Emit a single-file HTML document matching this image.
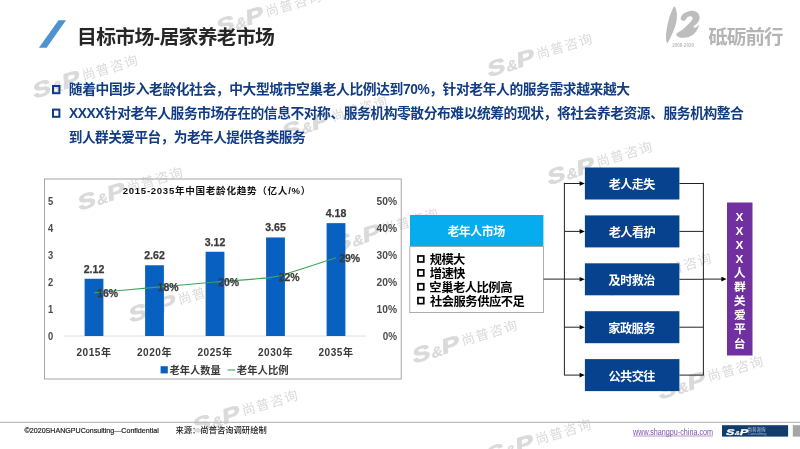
<!DOCTYPE html>
<html lang="zh-CN"><head><meta charset="utf-8"><title>目标市场-居家养老市场</title>
<style>
html,body{margin:0;padding:0;background:#fff}
body{width:800px;height:449px;overflow:hidden;position:relative;font-family:"Liberation Sans","Noto Sans CJK SC",sans-serif}
svg{position:absolute;left:0;top:0;overflow:hidden;will-change:transform}
.l{position:absolute;line-height:1;white-space:nowrap;transform-origin:0 0;will-change:transform}
.t{position:absolute;line-height:1;white-space:nowrap;color:transparent;font-weight:bold}
</style></head><body>
<svg width="800" height="449" viewBox="0 0 800 449">
<defs><g id="sp" font-family="Liberation Sans" font-weight="bold" fill="currentColor" stroke="currentColor" stroke-width="0.7" stroke-linejoin="round"><text transform="translate(1.800 1.300) skewX(-14) scale(1.3 1)" font-size="21">S</text><text transform="translate(21.300 1.500) skewX(-14) scale(1.1 1)" font-size="14.500" stroke-width="0.3">&amp;</text><text transform="translate(32.300 1) skewX(-14) scale(1.3 1)" font-size="21">P</text></g><g id="wm" fill="#dadada" color="#dadada"><use href="#sp"/><text x="54.88" y="-1.96" font-family="'Liberation Sans','Noto Sans CJK SC',sans-serif" font-size="13.4" fill="#dadada" textLength="57.35">尚普咨询</text></g></defs><g><clipPath id="cf"><rect x="0" y="0" width="205" height="449"/></clipPath><use href="#wm" transform="translate(215 34) rotate(-16.5)"/><use href="#wm" transform="translate(31.5 98) rotate(-16.5)"/><use href="#wm" transform="translate(486 76.5) rotate(-16.5)"/><use href="#wm" transform="translate(546 184.5) rotate(-16.5)"/><use href="#wm" transform="translate(76.5 210) rotate(-16.5)"/><g clip-path="url(#cf)"><use href="#wm" transform="translate(127.5 322) rotate(-16.5)"/></g><use href="#wm" transform="translate(332 251.5) rotate(-16.5)"/><use href="#wm" transform="translate(411 363) rotate(-16.5)"/><use href="#wm" transform="translate(657 399) rotate(-16.5)"/><use href="#wm" transform="translate(191.5 433) rotate(-16.5)"/><use href="#wm" transform="translate(485 462) rotate(-16.5)"/><use href="#wm" transform="translate(605 296) rotate(-16.5)"/><use href="#wm" transform="translate(281 139) rotate(-16.5)"/></g>
<polygon points="58.5,20.2 66,20.2 46.6,47.7 38.9,47.7" fill="#4e92d0"/><g fill="#bdbdbd"><path d="M674.5 6.5C675.3 6.7 676.4 10 676.7 12.2C677.1 14.5 676.9 17.4 676.6 20C676.3 22.6 675.6 25.2 674.7 27.8C673.8 30.4 672.6 33.1 671.4 35.6C670.1 38.2 668.2 42.9 667.3 43.2C666.5 43.5 666.1 39.9 666 37.3C665.9 34.7 666.4 30.9 666.9 27.8C667.4 24.8 668.1 21.8 668.9 18.9C669.7 16.1 670.9 13 671.8 10.9C672.7 8.8 673.7 6.2 674.5 6.5z"/><path d="M680.6 18.9C680.5 17.7 681.9 14.9 683.6 13.6C685.3 12.2 688.3 11.1 690.6 10.9C692.9 10.7 695.8 11.4 697.3 12.6C698.8 13.7 699.6 16.1 699.6 17.8C699.7 19.5 698.7 21.3 697.6 22.8C696.6 24.3 693.7 26 693.4 26.7C693.1 27.5 694.9 27.7 695.9 27.4C696.8 27.1 699 24.4 699 25.2C699 25.9 697.5 29.8 695.9 31.7C694.2 33.7 691.9 35.8 689.2 36.7C686.5 37.7 681.7 37.9 679.6 37.4C677.5 37 675.9 35.2 676.4 34C676.8 32.7 680.3 31.5 682.3 29.8C684.3 28.2 686.7 25.7 688.4 23.9C690.1 22.2 692 20.4 692.5 19.2C693 17.9 692.2 16.9 691.4 16.5C690.6 16.1 689 16.2 687.8 16.9C686.7 17.6 685.5 20.4 684.3 20.7C683.1 21 680.7 20.1 680.6 18.9z"/></g><rect x="53" y="86" width="6.4" height="7.2" fill="none" stroke="#113c84" stroke-width="2"/><rect x="53" y="109.6" width="6.4" height="7.2" fill="none" stroke="#113c84" stroke-width="2"/><rect x="44.5" y="179" width="356.75" height="200" fill="none" stroke="#a6a6a6" stroke-width="1"/><path d="M64 336H366" stroke="#dcdcdc" stroke-width="0.9" fill="none"/><rect x="84.6" y="278.76" width="18.8" height="57.24" fill="#0860c1"/><rect x="145.1" y="265.26" width="18.8" height="70.74" fill="#0860c1"/><rect x="205.6" y="251.76" width="18.8" height="84.24" fill="#0860c1"/><rect x="266.1" y="237.45" width="18.8" height="98.55" fill="#0860c1"/><rect x="326.6" y="223.14" width="18.8" height="112.86" fill="#0860c1"/><rect x="160.6" y="366.2" width="7.2" height="7.2" fill="#0860c1"/><path d="M227.6 370H235.2" stroke="#3da35d" stroke-width="1.1"/><rect x="410" y="215" width="133.4" height="31.5" fill="#06acee"/><rect x="409.8" y="246.6" width="133.8" height="66" fill="#fff" stroke="#9a9a9a" stroke-width="0.8"/><rect x="417.95" y="255.95" width="5.8" height="6" fill="none" stroke="#000" stroke-width="1.7"/><rect x="417.95" y="269.85" width="5.8" height="6" fill="none" stroke="#000" stroke-width="1.7"/><rect x="417.95" y="283.75" width="5.8" height="6" fill="none" stroke="#000" stroke-width="1.7"/><rect x="417.95" y="297.65" width="5.8" height="6" fill="none" stroke="#000" stroke-width="1.7"/><rect x="584.9" y="167.5" width="94.5" height="32" fill="#07428f"/><path d="M564.4 183.5 H581" stroke="#222" stroke-width="1" fill="none"/><path d="M584.8 183.5 l-5.2-2.3v4.6z" fill="#000"/><path d="M679.4 183.5 H703.4" stroke="#222" stroke-width="1" fill="none"/><rect x="584.9" y="215.4" width="94.5" height="32" fill="#07428f"/><path d="M564.4 231.4 H581" stroke="#222" stroke-width="1" fill="none"/><path d="M584.8 231.4 l-5.2-2.3v4.6z" fill="#000"/><path d="M679.4 231.4 H703.4" stroke="#222" stroke-width="1" fill="none"/><rect x="584.9" y="263.3" width="94.5" height="32" fill="#07428f"/><path d="M584.8 279.3 l-5.2-2.3v4.6z" fill="#000"/><path d="M679.4 279.3 H703.4" stroke="#222" stroke-width="1" fill="none"/><rect x="584.9" y="311.2" width="94.5" height="32" fill="#07428f"/><path d="M564.4 327.2 H581" stroke="#222" stroke-width="1" fill="none"/><path d="M584.8 327.2 l-5.2-2.3v4.6z" fill="#000"/><path d="M679.4 327.2 H703.4" stroke="#222" stroke-width="1" fill="none"/><rect x="584.9" y="359.1" width="94.5" height="32" fill="#07428f"/><path d="M564.4 375.1 H581" stroke="#222" stroke-width="1" fill="none"/><path d="M584.8 375.1 l-5.2-2.3v4.6z" fill="#000"/><path d="M679.4 375.1 H703.4" stroke="#222" stroke-width="1" fill="none"/><path d="M564.4 182.8V375.400M703.4 182.8V375.400" stroke="#222" stroke-width="1" fill="none"/><path d="M543.6 279.1H581M703.4 279.1H723" stroke="#222" stroke-width="1" fill="none"/><path d="M726.6 279.1l-5.2-2.300v4.600z" fill="#000"/><rect x="727" y="202.500" width="25.5" height="153" fill="#7030a0"/><path d="M0 422.300H800" stroke="#bdbdbd" stroke-width="1.2"/><rect x="722" y="425.2" width="66.1" height="11.4" fill="#133c6c"/><rect x="792.8" y="425.2" width="7.2" height="11.4" fill="#a6a6a6"/>
<g font-family="'Liberation Sans','Noto Sans CJK SC',sans-serif" font-weight="bold">
<text x="77.01" y="44.2" font-size="19.82" fill="#262626" textLength="197.9">目标市场-居家养老市场</text>
<text x="708.29" y="43.67" font-size="19.45" fill="#b4b4b4" textLength="75.1">砥砺前行</text>
<text x="68.85" y="94.47" font-size="13.76" fill="#113c84" textLength="561.2">随着中国步入老龄化社会，中大型城市空巢老人比例达到70%，针对老年人的服务需求越来越大</text>
<text x="69.06" y="117.97" font-size="13.76" fill="#113c84" textLength="674.8">XXXX针对老年人服务市场存在的信息不对称、服务机构零散分布难以统筹的现状，将社会养老资源、服务机构整合</text>
<text x="68.81" y="141.76" font-size="13.63" fill="#113c84" textLength="236.8">到人群关爱平台，为老年人提供各类服务</text>
<text x="122.76" y="193.6" font-size="9.59" fill="#111" textLength="187.6">2015-2035年中国老龄化趋势（亿人/%）</text>
<text x="76.51" y="356.05" font-size="10.07" fill="#3a3a3a" textLength="34.45">2015年</text>
<text x="137.01" y="356.05" font-size="10.07" fill="#3a3a3a" textLength="34.45">2020年</text>
<text x="197.51" y="356.05" font-size="10.07" fill="#3a3a3a" textLength="34.45">2025年</text>
<text x="258.01" y="356.05" font-size="10.07" fill="#3a3a3a" textLength="34.45">2030年</text>
<text x="318.51" y="356.05" font-size="10.07" fill="#3a3a3a" textLength="34.45">2035年</text>
<text x="169.42" y="373.5" font-size="10.26" fill="#3a3a3a" textLength="51.3">老年人数量</text>
<text x="236.81" y="373.56" font-size="10.37" fill="#3a3a3a" textLength="51.85">老年人比例</text>
<text x="447.38" y="236.41" font-size="11.96" fill="#fff" textLength="57.7">老年人市场</text>
<text x="429.79" y="264.27" font-size="12.3" fill="#000" textLength="35.6">规模大</text>
<text x="429.76" y="278.16" font-size="12.3" fill="#000" textLength="35.6">增速快</text>
<text x="429.34" y="292.13" font-size="12.3" fill="#000" textLength="83.1">空巢老人比例高</text>
<text x="429.92" y="305.99" font-size="12.3" fill="#000" textLength="94.96">社会服务供应不足</text>
<text x="608.68" y="188.78" font-size="12.05" fill="#fff" textLength="46.5">老人走失</text>
<text x="608.68" y="236.72" font-size="12.2" fill="#fff" textLength="47.1">老人看护</text>
<text x="608.6" y="284.61" font-size="12.13" fill="#fff" textLength="46.8">及时救治</text>
<text x="608.35" y="332.57" font-size="12.17" fill="#fff" textLength="47">家政服务</text>
<text x="608.44" y="380.5" font-size="12.17" fill="#fff" textLength="47">公共交往</text>
<text x="735.54" y="220.67" font-size="11.8" fill="#fff">X</text>
<text x="735.54" y="234.75" font-size="11.8" fill="#fff">X</text>
<text x="735.54" y="248.83" font-size="11.8" fill="#fff">X</text>
<text x="735.54" y="262.91" font-size="11.8" fill="#fff">X</text>
<text x="733.86" y="277.1" font-size="11.8" fill="#fff">人</text>
<text x="733.95" y="291.19" font-size="11.8" fill="#fff">群</text>
<text x="733.85" y="305.26" font-size="11.8" fill="#fff">关</text>
<text x="734.06" y="319.3" font-size="11.8" fill="#fff">爱</text>
<text x="733.88" y="333.06" font-size="11.8" fill="#fff">平</text>
<text x="733.73" y="347.6" font-size="11.8" fill="#fff">台</text>
</g>
<path d="M94 292.8C100.05 292.26 142.4 288.48 154.5 287.4C166.6 286.32 202.9 283.08 215 282C227.1 280.92 263.4 279.03 275.5 276.6C287.6 274.17 329.95 259.59 336 257.7" fill="none" stroke="#3da35d" stroke-width="1.1"/>
<text x="175.46" y="433.35" font-family="'Liberation Sans','Noto Sans CJK SC',sans-serif" font-size="8.3" font-weight="500" fill="#1a1a1a" textLength="91.3">来源：尚普咨询调研绘制</text>
<path d="M633 436H713" stroke="#7c52ae" stroke-width="0.6"/><use href="#sp" color="#fff" transform="translate(724.600 434.200) scale(0.455 0.4)"/>
<text x="747.38" y="431.02" font-family="'Liberation Sans','Noto Sans CJK SC',sans-serif" font-size="4.54" font-weight="500" fill="#a9b9d0" textLength="18.16">尚普咨询</text>
<g font-family="Liberation Sans,sans-serif"><text x="672.2" y="46.8" font-size="4.8" fill="#bcbcbc" font-weight="bold" textLength="21.81" lengthAdjust="spacingAndGlyphs">2008-2020</text>
<text x="48" y="340.2" font-size="10.8" fill="#4a4a4a" font-weight="bold" textLength="5.21" lengthAdjust="spacingAndGlyphs">0</text>
<text x="382.7" y="340.2" font-size="10.8" fill="#4a4a4a" font-weight="bold" textLength="14.3" lengthAdjust="spacingAndGlyphs">0%</text>
<text x="48" y="313.2" font-size="10.8" fill="#4a4a4a" font-weight="bold" textLength="5.21" lengthAdjust="spacingAndGlyphs">1</text>
<text x="376.5" y="313.2" font-size="10.8" fill="#4a4a4a" font-weight="bold" textLength="20.52" lengthAdjust="spacingAndGlyphs">10%</text>
<text x="48" y="286.2" font-size="10.8" fill="#4a4a4a" font-weight="bold" textLength="5.21" lengthAdjust="spacingAndGlyphs">2</text>
<text x="376.5" y="286.2" font-size="10.8" fill="#4a4a4a" font-weight="bold" textLength="20.52" lengthAdjust="spacingAndGlyphs">20%</text>
<text x="48" y="259.2" font-size="10.8" fill="#4a4a4a" font-weight="bold" textLength="5.21" lengthAdjust="spacingAndGlyphs">3</text>
<text x="376.5" y="259.2" font-size="10.8" fill="#4a4a4a" font-weight="bold" textLength="20.52" lengthAdjust="spacingAndGlyphs">30%</text>
<text x="48" y="232.2" font-size="10.8" fill="#4a4a4a" font-weight="bold" textLength="5.21" lengthAdjust="spacingAndGlyphs">4</text>
<text x="376.5" y="232.2" font-size="10.8" fill="#4a4a4a" font-weight="bold" textLength="20.52" lengthAdjust="spacingAndGlyphs">40%</text>
<text x="48" y="205.2" font-size="10.8" fill="#4a4a4a" font-weight="bold" textLength="5.21" lengthAdjust="spacingAndGlyphs">5</text>
<text x="376.5" y="205.2" font-size="10.8" fill="#4a4a4a" font-weight="bold" textLength="20.52" lengthAdjust="spacingAndGlyphs">50%</text>
<text x="83.7" y="272.76" font-size="10.9" fill="#3a3a3a" font-weight="bold" stroke="#3a3a3a" stroke-width="0.25" textLength="20.61" lengthAdjust="spacingAndGlyphs">2.12</text>
<text x="144.2" y="259.26" font-size="10.9" fill="#3a3a3a" font-weight="bold" stroke="#3a3a3a" stroke-width="0.25" textLength="20.61" lengthAdjust="spacingAndGlyphs">2.62</text>
<text x="204.7" y="245.76" font-size="10.9" fill="#3a3a3a" font-weight="bold" stroke="#3a3a3a" stroke-width="0.25" textLength="20.61" lengthAdjust="spacingAndGlyphs">3.12</text>
<text x="265.2" y="231.45" font-size="10.9" fill="#3a3a3a" font-weight="bold" stroke="#3a3a3a" stroke-width="0.25" textLength="20.61" lengthAdjust="spacingAndGlyphs">3.65</text>
<text x="325.7" y="217.14" font-size="10.9" fill="#3a3a3a" font-weight="bold" stroke="#3a3a3a" stroke-width="0.25" textLength="20.61" lengthAdjust="spacingAndGlyphs">4.18</text>
<text x="97.2" y="296.8" font-size="10.9" fill="#3a3a3a" font-weight="bold" stroke="#3a3a3a" stroke-width="0.25" textLength="21.02" lengthAdjust="spacingAndGlyphs">16%</text>
<text x="157.7" y="291.4" font-size="10.9" fill="#3a3a3a" font-weight="bold" stroke="#3a3a3a" stroke-width="0.25" textLength="21.02" lengthAdjust="spacingAndGlyphs">18%</text>
<text x="218.2" y="286" font-size="10.9" fill="#3a3a3a" font-weight="bold" stroke="#3a3a3a" stroke-width="0.25" textLength="21.02" lengthAdjust="spacingAndGlyphs">20%</text>
<text x="278.7" y="280.6" font-size="10.9" fill="#3a3a3a" font-weight="bold" stroke="#3a3a3a" stroke-width="0.25" textLength="21.02" lengthAdjust="spacingAndGlyphs">22%</text>
<text x="339.2" y="261.7" font-size="10.9" fill="#3a3a3a" font-weight="bold" stroke="#3a3a3a" stroke-width="0.25" textLength="21.02" lengthAdjust="spacingAndGlyphs">29%</text>
<text x="24.6" y="433" font-size="7.8" fill="#1a1a1a" stroke="#1a1a1a" stroke-width="0.2" textLength="134.19" lengthAdjust="spacingAndGlyphs">©2020SHANGPUConsulting—Confidential</text>
<text x="633.04" y="434.8" font-size="8.4" fill="#7c52ae" textLength="79.98" lengthAdjust="spacingAndGlyphs">www.shangpu-china.com</text>
<text x="747.9" y="434.9" font-size="3.9" fill="#a9b9d0" textLength="18.6" lengthAdjust="spacingAndGlyphs">Consulting</text></g>
</svg>
<div><span class="t" style="left:77px;top:26.8px;font-size:19.8px">目标市场-居家养老市场</span><span class="t" style="left:708.3px;top:26.6px;font-size:19.5px">砥砺前行</span><span class="t" style="left:68.9px;top:82.4px;font-size:13.8px">随着中国步入老龄化社会，中大型城市空巢老人比例达到70%，针对老年人的服务需求越来越大</span><span class="t" style="left:69.1px;top:105.9px;font-size:13.8px">XXXX针对老年人服务市场存在的信息不对称、服务机构零散分布难以统筹的现状，将社会养老资源、服务机构整合</span><span class="t" style="left:68.8px;top:129.8px;font-size:13.6px">到人群关爱平台，为老年人提供各类服务</span><span class="t" style="left:122.8px;top:185.2px;font-size:9.6px">2015-2035年中国老龄化趋势（亿人/%）</span><span class="t" style="left:76.5px;top:347.2px;font-size:10.1px">2015年</span><span class="t" style="left:137px;top:347.2px;font-size:10.1px">2020年</span><span class="t" style="left:197.5px;top:347.2px;font-size:10.1px">2025年</span><span class="t" style="left:258px;top:347.2px;font-size:10.1px">2030年</span><span class="t" style="left:318.5px;top:347.2px;font-size:10.1px">2035年</span><span class="t" style="left:169.4px;top:364.5px;font-size:10.3px">老年人数量</span><span class="t" style="left:236.8px;top:364.4px;font-size:10.4px">老年人比例</span><span class="t" style="left:447.4px;top:225.9px;font-size:12px">老年人市场</span><span class="t" style="left:429.8px;top:253.4px;font-size:12.3px">规模大</span><span class="t" style="left:429.8px;top:267.3px;font-size:12.3px">增速快</span><span class="t" style="left:429.3px;top:281.3px;font-size:12.3px">空巢老人比例高</span><span class="t" style="left:429.9px;top:295.2px;font-size:12.3px">社会服务供应不足</span><span class="t" style="left:608.7px;top:178.2px;font-size:12px">老人走失</span><span class="t" style="left:608.7px;top:226px;font-size:12.2px">老人看护</span><span class="t" style="left:608.6px;top:273.9px;font-size:12.1px">及时救治</span><span class="t" style="left:608.4px;top:321.9px;font-size:12.2px">家政服务</span><span class="t" style="left:608.4px;top:369.8px;font-size:12.2px">公共交往</span><span class="t" style="left:735.5px;top:210.3px;font-size:11.8px">X</span><span class="t" style="left:735.5px;top:224.4px;font-size:11.8px">X</span><span class="t" style="left:735.5px;top:238.4px;font-size:11.8px">X</span><span class="t" style="left:735.5px;top:252.5px;font-size:11.8px">X</span><span class="t" style="left:733.9px;top:266.7px;font-size:11.8px">人</span><span class="t" style="left:734px;top:280.8px;font-size:11.8px">群</span><span class="t" style="left:733.8px;top:294.9px;font-size:11.8px">关</span><span class="t" style="left:734.1px;top:308.9px;font-size:11.8px">爱</span><span class="t" style="left:733.9px;top:322.7px;font-size:11.8px">平</span><span class="t" style="left:733.7px;top:337.2px;font-size:11.8px">台</span><span class="t" style="left:175.5px;top:426px;font-size:8.3px">来源：尚普咨询调研绘制</span><span class="t" style="left:747.4px;top:427px;font-size:4.5px">尚普咨询</span></div>
</body></html>
